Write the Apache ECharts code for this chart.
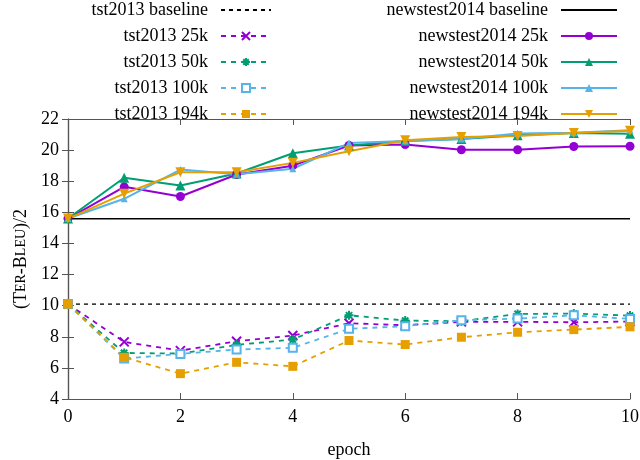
<!DOCTYPE html>
<html>
<head>
<meta charset="utf-8">
<script src="https://cdn.jsdelivr.net/npm/echarts@6/dist/echarts.min.js"></script>
<style>
  html, body { margin: 0; padding: 0; background: #fff; }
  #main { width: 640px; height: 460px; }
</style>
</head>
<body>
<div id="main"></div>
<script>
// values
var epochs = [0, 1, 2, 3, 4, 5, 6, 7, 8, 9, 10];
var xTicks = [0, 2, 4, 6, 8, 10];
var yTicks = [4, 6, 8, 10, 12, 14, 16, 18, 20, 22];

var tst2013Baseline = 10.1;
var newstest2014Baseline = 15.58;

var tst25k  = [10.1, 7.67, 7.11, 7.71, 8.08, 8.87, 8.74, 8.96, 8.96, 8.93, 8.98];
var tst50k  = [10.1, 6.96, 6.92, 7.48, 7.82, 9.38, 9.04, 9.00, 9.47, 9.49, 9.36];
var tst100k = [10.1, 6.60, 6.90, 7.18, 7.29, 8.51, 8.68, 9.06, 9.17, 9.38, 9.15];
var tst194k = [10.1, 6.68, 5.63, 6.36, 6.10, 7.76, 7.50, 7.97, 8.29, 8.46, 8.64];

var news25k  = [15.6, 17.64, 17.02, 18.43, 19.00, 20.30, 20.36, 20.02, 20.02, 20.23, 20.25];
var news50k  = [15.6, 18.22, 17.72, 18.50, 19.80, 20.30, 20.58, 20.72, 20.96, 21.10, 21.05];
var news100k = [15.6, 16.87, 18.75, 18.45, 18.80, 20.45, 20.58, 20.72, 21.07, 21.12, 21.28];
var news194k = [15.6, 17.20, 18.58, 18.58, 19.18, 19.93, 20.64, 20.85, 20.90, 21.10, 21.24];

var purple = '#9400d3', green = '#009e73', blue = '#56b4e9', orange = '#e69f00';
var font = '"Liberation Serif", "DejaVu Serif", serif';

// gnuplot-like point types
var crossSym = 'path://M0,0L10,10M10,0L0,10';
var starSym = 'path://M5,0L5,10M0,5L10,5M1.5,1.5L8.5,8.5M8.5,1.5L1.5,8.5';
var downTri = 'path://M0,0L10,0L5,9Z';

function pairs(vals) {
  return vals.map(function (v, i) { return [epochs[i], v]; });
}

function tstSeries(name, vals, color, symbol, size, stroke) {
  return {
    name: name, type: 'line', data: pairs(vals),
    symbol: symbol, symbolSize: size, showAllSymbol: true,
    lineStyle: { color: color, width: 1.8, type: [5, 5] },
    itemStyle: stroke ? { color: color, borderColor: color, borderWidth: 2 } : { color: color },
    z: 3
  };
}

function newsSeries(name, vals, color, symbol, size) {
  return {
    name: name, type: 'line', data: pairs(vals),
    symbol: symbol, symbolSize: size, showAllSymbol: true,
    lineStyle: { color: color, width: 2 },
    itemStyle: { color: color },
    z: 4
  };
}

var chart = echarts.init(document.getElementById('main'));

var legendCommon = {
  orient: 'vertical', align: 'right', top: 1, padding: 0,
  itemHeight: 10, itemGap: 8,
  textStyle: { fontFamily: font, fontSize: 18, color: '#000', padding: [0, 8, 0, 0] },
  selectedMode: false
};

var option = {
  animation: false,
  backgroundColor: '#fff',
  legend: [
    Object.assign({}, legendCommon, {
      right: 368, itemWidth: 50,
      data: [
        { name: 'tst2013 baseline', itemStyle: { opacity: 0 } },
        'tst2013 25k', 'tst2013 50k', 'tst2013 100k', 'tst2013 194k'
      ]
    }),
    Object.assign({}, legendCommon, {
      right: 22, itemWidth: 56,
      data: [
        { name: 'newstest2014 baseline', itemStyle: { opacity: 0 } },
        'newstest2014 25k', 'newstest2014 50k', 'newstest2014 100k', 'newstest2014 194k'
      ]
    })
  ],
  grid: { left: 68, right: 10, top: 119, bottom: 61, outerBoundsMode: 'none', containLabel: false },
  xAxis: [
    {
      type: 'value', min: 0, max: 10, interval: 2,
      name: 'epoch', nameLocation: 'middle', nameGap: 42,
      nameTextStyle: { fontFamily: font, fontSize: 18, color: '#000' },
      axisLine: { lineStyle: { color: '#555', width: 1.2 } },
      axisTick: { inside: true, length: 6, lineStyle: { color: '#555' } },
      axisLabel: { fontFamily: font, fontSize: 18, color: '#000', margin: 9,
        formatter: function (v) { return xTicks.indexOf(v) >= 0 ? String(v) : ''; } },
      splitLine: { show: false }
    },
    {
      type: 'value', position: 'top', min: 0, max: 10, interval: 2,
      axisLine: { lineStyle: { color: '#555', width: 1.2 } },
      axisTick: { inside: true, length: 6, lineStyle: { color: '#555' } },
      axisLabel: { show: false }, splitLine: { show: false }
    }
  ],
  yAxis: [
    {
      type: 'value', min: 4, max: 22, interval: 2,
      name: '{b|(T}{s|ER}{b|-B}{s|LEU}{b|)/2}', nameLocation: 'middle', nameGap: 36, nameRotate: 90,
      nameTextStyle: {
        rich: {
          b: { fontFamily: font, fontSize: 18, color: '#000' },
          s: { fontFamily: font, fontSize: 14, color: '#000' }
        }
      },
      axisLine: { show: true, lineStyle: { color: '#555', width: 1.2 } },
      axisTick: { show: true, inside: true, length: 6, lineStyle: { color: '#555' } },
      axisLabel: { fontFamily: font, fontSize: 18, color: '#000', margin: 9,
        formatter: function (v) { return yTicks.indexOf(v) >= 0 ? String(v) : ''; } },
      splitLine: { show: false }
    },
    {
      type: 'value', position: 'right', min: 4, max: 22, interval: 2,
      axisLine: { show: true, lineStyle: { color: '#555', width: 1.2 } },
      axisTick: { show: true, inside: true, length: 6, lineStyle: { color: '#555' } },
      axisLabel: { show: false }, splitLine: { show: false }
    }
  ],
  series: [
    {
      name: 'tst2013 baseline', type: 'line', symbol: 'none',
      data: [[epochs[0], tst2013Baseline], [epochs[epochs.length - 1], tst2013Baseline]],
      lineStyle: { color: '#000', width: 1.3, type: [4, 4] }, itemStyle: { color: '#000' }, z: 2
    },
    tstSeries('tst2013 25k', tst25k, purple, crossSym, 9, true),
    tstSeries('tst2013 50k', tst50k, green, starSym, 9, true),
    tstSeries('tst2013 100k', tst100k, blue, 'emptyRect', 8, false),
    tstSeries('tst2013 194k', tst194k, orange, 'rect', 9, false),
    {
      name: 'newstest2014 baseline', type: 'line', symbol: 'none',
      data: [[epochs[0], newstest2014Baseline], [epochs[epochs.length - 1], newstest2014Baseline]],
      lineStyle: { color: '#000', width: 1.5 }, itemStyle: { color: '#000' }, z: 2
    },
    newsSeries('newstest2014 25k', news25k, purple, 'circle', 9),
    newsSeries('newstest2014 50k', news50k, green, 'triangle', 10),
    newsSeries('newstest2014 100k', news100k, blue, 'triangle', 7),
    newsSeries('newstest2014 194k', news194k, orange, downTri, 10)
  ]
};

if (option && typeof option === 'object') {
  chart.setOption(option);
}
</script>
</body>
</html>
